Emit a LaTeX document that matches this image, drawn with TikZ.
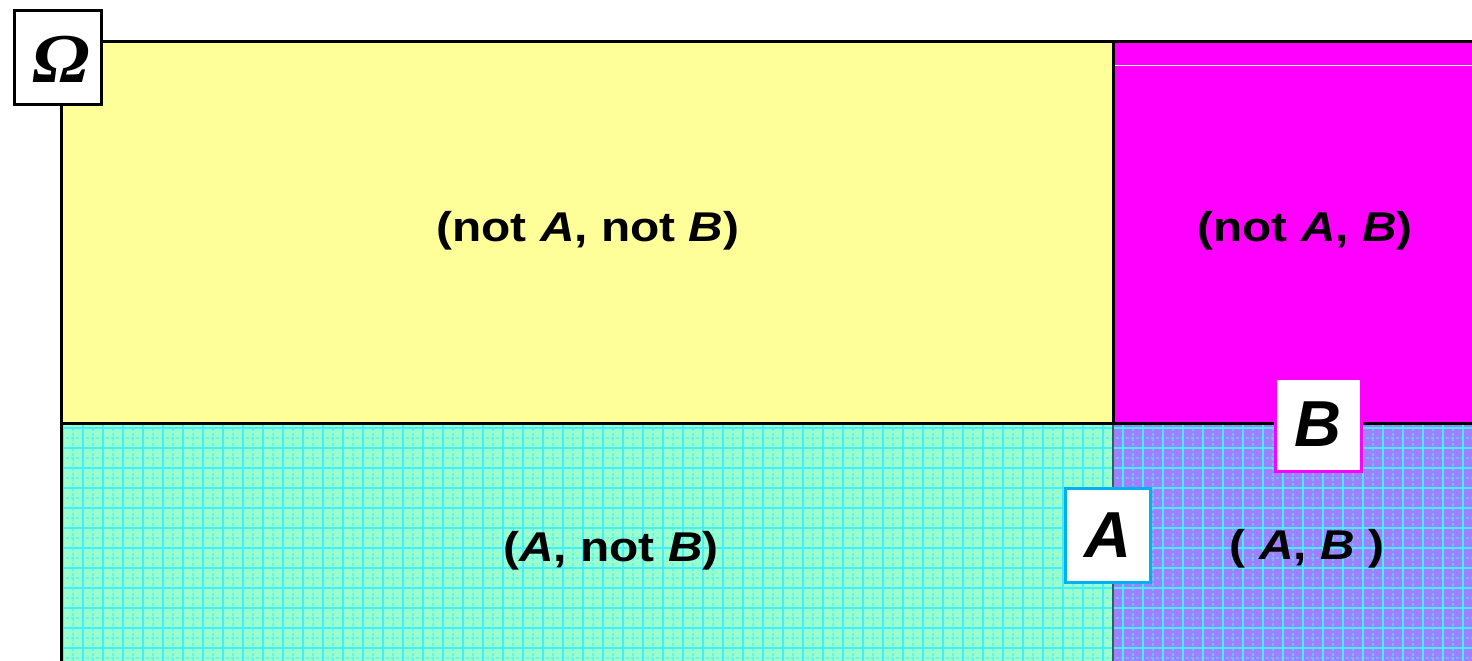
\documentclass[tikz,border=0pt]{standalone}
\usepackage{fontspec}
\setmainfont{Liberation Sans}
\newfontfamily\lblfont{Liberation Sans}[FakeStretch=1.15]
\newfontfamily\omfont{Liberation Serif}[FakeStretch=1.1]
\definecolor{ylw}{HTML}{FFFF99}
\definecolor{mag}{HTML}{FF00FF}
\definecolor{grn}{HTML}{99FFCC}
\definecolor{pur}{HTML}{A080FF}
\definecolor{gridc}{HTML}{40F0FF}
\definecolor{abord}{HTML}{00B0F0}
\definecolor{darkteal}{HTML}{2F5F5F}
\begin{document}
\begin{tikzpicture}[x=0.5pt,y=-0.5pt,
  border/.style={line width=1.5pt, black},
  gridline/.style={gridc, line width=0.55pt},
  gridline2/.style={gridc, line width=0.55pt, opacity=0.55, dash pattern=on 1.5pt off 1pt},
  labelbox/.style={draw, fill=white, line width=1.5pt, inner sep=0pt},
  region/.style={font=\lblfont\bfseries\fontsize{20.8}{24}\selectfont},
  boxletter/.style={font=\bfseries\itshape\fontsize{32.5}{36}\selectfont}
]
\useasboundingbox (0,0) rectangle (1472,660);
\fill[white] (0,0) rectangle (1472,660);
% regions
\fill[ylw] (61,41) rectangle (1113,423);
\fill[mag] (1113,41) rectangle (1480,423);
\fill[grn] (61,423) rectangle (1113,670);
\fill[pur] (1113,423) rectangle (1480,670);
% grid
\begin{scope}
\clip (61,423) rectangle (1480,670);
\foreach \x in {63,83,...,1483} \draw[gridline] (\x,423) -- (\x,670);
\foreach \x in {73,93,...,1483} \draw[gridline2] (\x,423) -- (\x,670);
\foreach \y in {428,448,...,668} \draw[gridline] (61,\y) -- (1480,\y);
\foreach \y in {438,458,...,668} \draw[gridline2] (61,\y) -- (1480,\y);
\end{scope}
% thin white line in magenta
\draw[white, line width=0.5pt] (1115,65) -- (1480,65);
% dividers and border
\draw[darkteal, line width=1.2pt] (1113,423) -- (1113,670);
\draw[border] (1113,41) -- (1113,423);
\draw[border] (61,423) -- (1480,423);
\draw[border] (61,670) -- (61,41) -- (1480,41);
% region labels
\node[region] (nAnB) at (588,231) {(not \textit{A}, not \textit{B})};
\node[region] (nAB) at (1305,231) {(not \textit{A}, \textit{B})};
\node[region] (AnB) at (611,551) {(\textit{A}, not \textit{B})};
\node[region] (AB) at (1307,549) {( \textit{A}, \textit{B} )};
% boxes
\node[labelbox, minimum width=43.5pt, minimum height=47pt, font=\omfont\bfseries\itshape\fontsize{35}{36}\selectfont] (om) at (58,57.5) {\hspace*{3.5pt}\raisebox{-12.5pt}[0pt][0pt]{Ω}};
\node[labelbox, draw=abord, minimum width=42.5pt, minimum height=47pt, boxletter] (boxA) at (1107.5,535) {A};
\node[labelbox, draw=mag, minimum width=43pt, minimum height=46.5pt, boxletter] (boxB) at (1318,424.5) {B};
\end{tikzpicture}
\end{document}
